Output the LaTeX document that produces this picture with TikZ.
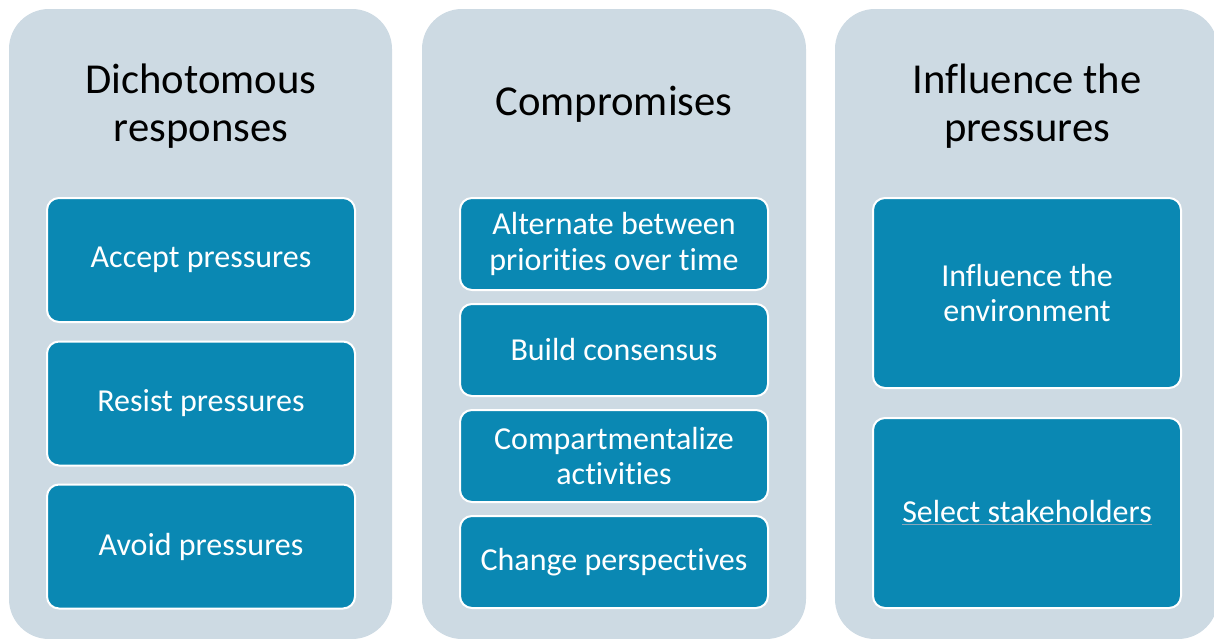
\documentclass[tikz,border=0pt]{standalone}
\usepackage{fontspec}
\setmainfont[Ligatures=NoCommon]{Carlito}
\usepackage{tikz}
\usetikzlibrary{positioning}
\usepackage{xcolor}
\definecolor{panelgrey}{HTML}{CDDAE3}
\definecolor{itemblue}{HTML}{0A88B3}
\definecolor{linkgrey}{HTML}{8AA6BA}

\begin{document}
\begin{tikzpicture}[x=0.75pt, y=-0.75pt,
    panel/.style={fill=panelgrey, rounded corners=30pt},
    title/.style={align=center, font=\fontsize{32pt}{36pt}\selectfont, text=black},
    item/.style={draw=white, line width=1.5pt, fill=itemblue, rounded corners=9pt,
      text=white, align=center, minimum width=231pt,
      font=\fontsize{24pt}{26.5pt}\selectfont}]
      % Frame
      \useasboundingbox (0,0) rectangle (1214,639);
      \clip (0,0) rectangle (1214,639);

      % Panels
      \fill[panel] (9,9) rectangle (392,639);
      \fill[panel] (422,9) rectangle (806,639);
      \fill[panel] (835,9) rectangle (1218,639);

      % Titles
      \node[title] (t1) at (201,106) {Dichotomous\\responses};
      \node[title] (t2) at (614,104) {Compromises};
      \node[title] (t3) at (1027,106) {Influence the\\pressures};

      % Dichotomous responses
      \node[item, minimum height=93pt] (accept) at (201,260) {Accept pressures};
      \node[item, minimum height=93pt] (resist) at (201,403.5) {Resist pressures};
      \node[item, minimum height=93pt] (avoid)  at (201,546.5) {Avoid pressures};

      % Compromises
      \node[item, minimum height=69pt] (alternate) at (614,244) {Alternate between\\priorities over time};
      \node[item, minimum height=69pt] (consensus) at (614,350) {Build consensus};
      \node[item, minimum height=69pt] (compart)   at (614,456) {Compartmentalize\\activities};
      \node[item, minimum height=69pt] (perspect)  at (614,562) {Change perspectives};

      % Influence the pressures
      \node[item, minimum height=142.5pt] (environ) at (1027,293) {Influence the\\environment};
      \node[item, minimum height=142.5pt] (select)  at (1027,513)
        {{\color{linkgrey}\underline{\color{white}Select stakeholders}}};
    \end{tikzpicture}
\end{document}
